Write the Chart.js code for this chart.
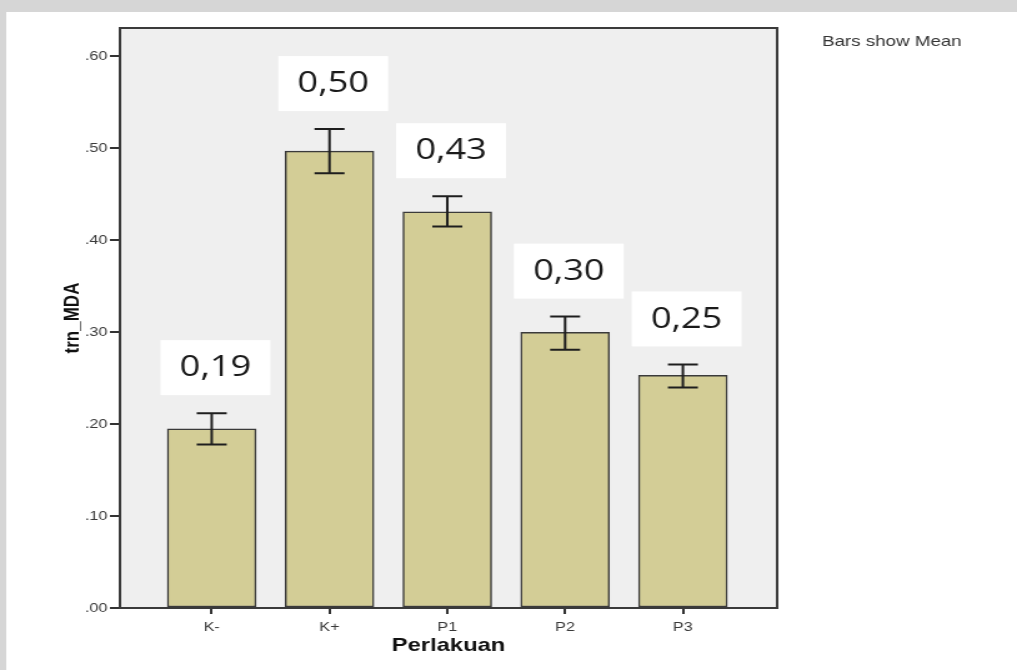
<!DOCTYPE html>
<html>
<head>
<meta charset="utf-8" />
<title>trn_MDA per Perlakuan</title>
<script src="https://cdn.jsdelivr.net/npm/chart.js@4.4.0/dist/chart.umd.min.js"></script>
<style>
    html, body { margin: 0; padding: 0; background: #ffffff; overflow: hidden; }
    /* the original picture is a chart stretched sideways, so draw narrow and stretch */
    #wrap { width: 814px; height: 670px; transform: scaleX(1.2494); transform-origin: 0 0; }
</style>
</head>
<body>
<div id="wrap"><canvas id="chart" width="814" height="670"></canvas></div>

<script type="text/javascript">
// Data.
var categories = ['K-', 'K+', 'P1', 'P2', 'P3'];
var means = [0.195, 0.497, 0.431, 0.300, 0.253];
var errLow = [0.178, 0.473, 0.415, 0.281, 0.240];
var errHigh = [0.212, 0.521, 0.448, 0.317, 0.265];
var valueLabels = ['0,19', '0,50', '0,43', '0,30', '0,25'];
var yTicks = [0, 0.1, 0.2, 0.3, 0.4, 0.5, 0.6];

var axisFont = 'Liberation Sans, Arial, sans-serif';

// Page, plot background, frame, error bars and value boxes.
var spssPlugin = {
    id: 'spss',
    beforeDraw: function (chart) {
        var ctx = chart.ctx;
        var a = chart.chartArea;
        ctx.save();
        ctx.fillStyle = '#d6d6d6';
        ctx.fillRect(0, 0, chart.width, chart.height);
        ctx.fillStyle = '#ffffff';
        ctx.fillRect(5, 12, chart.width - 5, chart.height - 12);
        ctx.fillStyle = '#efefef';
        ctx.fillRect(a.left, a.top, a.right - a.left, a.bottom - a.top);
        ctx.restore();
    },
    afterDatasetsDraw: function (chart) {
        var ctx = chart.ctx;
        var xs = chart.scales.x;
        var ys = chart.scales.y;
        ctx.save();
        // error bars
        ctx.strokeStyle = '#1e1e1e';
        ctx.lineWidth = 2;
        for (var i = 0; i < categories.length; i++) {
            var cx = xs.getPixelForValue(i);
            var yl = ys.getPixelForValue(errLow[i]);
            var yh = ys.getPixelForValue(errHigh[i]);
            ctx.beginPath();
            ctx.moveTo(cx, yl); ctx.lineTo(cx, yh);
            ctx.moveTo(cx - 12, yl); ctx.lineTo(cx + 12, yl);
            ctx.moveTo(cx - 12, yh); ctx.lineTo(cx + 12, yh);
            ctx.stroke();
        }
        // value boxes
        ctx.font = '29px "Open Sans"';
        ctx.textAlign = 'center';
        ctx.textBaseline = 'middle';
        for (var j = 0; j < categories.length; j++) {
            var bx = xs.getPixelForValue(j) + 3;
            var bottom = ys.getPixelForValue(errHigh[j]) - 18;
            ctx.fillStyle = '#ffffff';
            ctx.fillRect(bx - 44, bottom - 55, 88, 55);
            ctx.fillStyle = '#1a1a1a';
            ctx.fillText(valueLabels[j], bx, bottom - 27);
        }
        ctx.restore();
    },
    afterDraw: function (chart) {
        var ctx = chart.ctx;
        var a = chart.chartArea;
        ctx.save();
        ctx.strokeStyle = '#3a3a3a';
        ctx.lineWidth = 2;
        ctx.strokeRect(a.left, a.top, a.right - a.left, a.bottom - a.top);
        ctx.fillStyle = '#333333';
        ctx.font = '15px ' + axisFont;
        ctx.textAlign = 'left';
        ctx.textBaseline = 'middle';
        ctx.fillText('Bars show Mean', 658, 42);
        ctx.restore();
    }
};

var chart = new Chart(document.getElementById('chart').getContext('2d'), {
    type: 'bar',
    data: {
        datasets: [{
            data: means.map(function (m, i) { return {x: i, y: m}; }),
            backgroundColor: 'rgb(211, 205, 150)',
            borderColor: '#3a3a3a',
            borderWidth: 1.5,
            borderSkipped: false,
            barThickness: 71,
        }],
    },
    options: {
        responsive: false,
        animation: false,
        events: [],
        layout: {
            padding: {left: 0, top: 28, right: 192, bottom: 0},
        },
        scales: {
            x: {
                type: 'linear',
                offset: false,
                min: -0.779,
                max: 4.8,
                afterBuildTicks: function (scale) {
                    scale.ticks = categories.map(function (c, i) { return {value: i}; });
                },
                afterFit: function (scale) { scale.height = 62; },
                ticks: {
                    callback: function (v) { return categories[v]; },
                    font: {family: axisFont, size: 13},
                    color: '#3a3a3a',
                    padding: 6,
                    maxRotation: 0,
                },
                grid: {
                    offset: false,
                    drawOnChartArea: false,
                    tickLength: 6,
                    color: '#333333',
                    lineWidth: 2,
                },
                border: {display: true, color: '#3a3a3a', width: 2},
                title: {
                    display: true,
                    text: 'Perlakuan',
                    font: {family: axisFont, size: 19, weight: 'bold'},
                    color: '#111111',
                    padding: {top: 0, bottom: 13},
                },
            },
            y: {
                min: 0,
                max: 0.631,
                afterBuildTicks: function (scale) {
                    scale.ticks = yTicks.map(function (v) { return {value: v}; });
                },
                afterFit: function (scale) { scale.width = 96; },
                ticks: {
                    callback: function (v) { return v.toFixed(2).replace(/^0/, ''); },
                    font: {family: axisFont, size: 13},
                    color: '#3a3a3a',
                    padding: 2,
                },
                grid: {
                    drawOnChartArea: false,
                    tickLength: 8,
                    color: '#333333',
                    lineWidth: 2,
                },
                border: {display: true, color: '#3a3a3a', width: 2},
                title: {
                    display: true,
                    text: 'trn_MDA',
                    font: {family: axisFont, size: 17, weight: 'bold'},
                    color: '#111111',
                    padding: {top: 48, bottom: 0},
                },
            },
        },
        plugins: {
            legend: {display: false},
            tooltip: {enabled: false},
        },
    },
    plugins: [spssPlugin],
});
</script>
</body>
</html>
